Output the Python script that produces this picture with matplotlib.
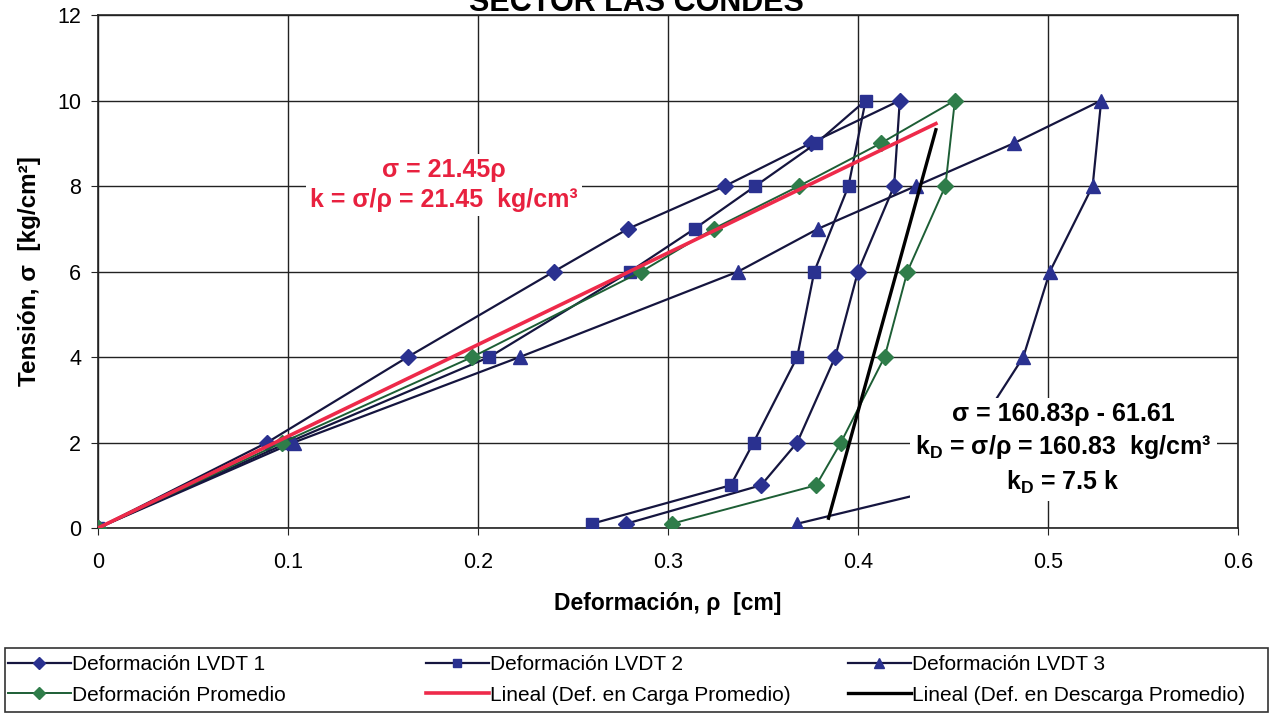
import numpy as np
import matplotlib.pyplot as plt
from matplotlib.patches import Rectangle
from matplotlib import font_manager

# Datos (tensión en kg/cm2, deformación en cm)
sigma = [0, 2, 4, 6, 7, 8, 9, 10, 8, 6, 4, 2, 1, 0.1]
lvdt1 = [0, 0.089, 0.163, 0.240, 0.279, 0.330, 0.375, 0.422, 0.419, 0.400, 0.388, 0.368, 0.349, 0.278]
lvdt2 = [0, 0.100, 0.206, 0.280, 0.314, 0.346, 0.378, 0.404, 0.395, 0.377, 0.368, 0.345, 0.333, 0.260]
lvdt3 = [0, 0.103, 0.222, 0.337, 0.379, 0.4305, 0.482, 0.528, 0.5235, 0.501, 0.487, 0.458, 0.452, 0.368]
promedio = [0, 0.097, 0.197, 0.286, 0.324, 0.369, 0.412, 0.451, 0.446, 0.426, 0.414, 0.391, 0.378, 0.302]

# Líneas de tendencia
k_carga = 21.45
rango_carga = [0, 0.441]
k_desc, b_desc = 160.83, -61.61
rango_desc = [0.3845, 0.441]

fuentes = [f.name for f in font_manager.fontManager.ttflist]
fuente = 'Liberation Sans' if 'Liberation Sans' in fuentes else 'DejaVu Sans'

plt.rcParams['font.family'] = [fuente, 'DejaVu Sans']
plt.rcParams['mathtext.fontset'] = 'custom'
plt.rcParams['mathtext.rm'] = fuente
plt.rcParams['mathtext.bf'] = fuente + ':bold'
plt.rcParams['mathtext.default'] = 'bf'

azul_linea = '#15153f'
azul = '#2a3190'
verde = '#2f7d4a'
verde_linea = '#1d5e35'

fig = plt.figure(figsize=(12.73, 7.19), dpi=100)
ax = fig.add_axes([0.077, 1 - 528 / 719, 0.8955, 513 / 719])

ax.plot(lvdt1, sigma, color=azul_linea, lw=1.6, marker='D', ms=8.5,
        mfc=azul, mec=azul, label='Deformación LVDT 1', zorder=3)
ax.plot(lvdt2, sigma, color=azul_linea, lw=1.6, marker='s', ms=8.5,
        mfc=azul, mec=azul, label='Deformación LVDT 2', zorder=3)
ax.plot(lvdt3, sigma, color=azul_linea, lw=1.6, marker='^', ms=10,
        mfc=azul, mec=azul, label='Deformación LVDT 3', zorder=3)
ax.plot(promedio, sigma, color=verde_linea, lw=1.4, marker='D', ms=8.5,
        mfc=verde, mec=verde, label='Deformación Promedio', zorder=3)

xc = np.array(rango_carga)
ax.plot(xc, k_carga * xc, color='#ee2a4a', lw=2.6,
        label='Lineal (Def. en Carga Promedio)', zorder=4)
xd = np.array(rango_desc)
ax.plot(xd, k_desc * xd + b_desc, color='black', lw=2.4,
        label='Lineal (Def. en Descarga Promedio)', zorder=4)

ax.text(0.182, 8.02, 'σ = 21.45ρ\nk = σ/ρ = 21.45  kg/cm³', color='#e8213f',
        fontsize=18, fontweight='bold', ha='center', va='center', linespacing=1.3,
        bbox=dict(facecolor='white', edgecolor='none', pad=3), zorder=6)
ax.text(0.508, 1.85, 'σ = 160.83ρ - 61.61\nk$_D$ = σ/ρ = 160.83  kg/cm³\nk$_D$ = 7.5 k',
        color='black', fontsize=18, fontweight='bold', ha='center', va='center',
        linespacing=1.35, bbox=dict(facecolor='white', edgecolor='none', pad=4), zorder=6)

ax.set_xlim(0, 0.6)
ax.set_ylim(0, 12)
ax.set_xticks(np.arange(0, 0.61, 0.1))
ax.set_xticklabels(['0', '0.1', '0.2', '0.3', '0.4', '0.5', '0.6'])
ax.set_yticks(range(0, 13, 2))
ax.grid(True, color='#222222', lw=1.0)
ax.set_axisbelow(True)
for s in ax.spines.values():
    s.set_color('#222222')
    s.set_linewidth(1.2)
ax.tick_params(labelsize=15.5, length=5, color='#222222', pad=12)
ax.tick_params(axis='y', pad=7)

ax.set_xlabel('Deformación, ρ  [cm]', fontsize=16.5, fontweight='bold', labelpad=14)
ax.set_ylabel('Tensión, σ  [kg/cm²]', fontsize=17.5, fontweight='bold', labelpad=12)

fig.text(0.5, 1 - 11 / 719, 'SECTOR LAS CONDES', ha='center', va='baseline',
         fontsize=22, fontweight='bold')

# Leyenda en recuadro, tres columnas
fig.patches.append(Rectangle((5 / 1273, 7 / 719), 1263 / 1273, 64 / 719,
                             transform=fig.transFigure, fill=False,
                             edgecolor='#333333', lw=1.2))
handles, labels = ax.get_legend_handles_labels()
posiciones = [8 / 1273, 426 / 1273, 848 / 1273]
for i, xpos in enumerate(posiciones):
    fig.legend([handles[i], handles[i + 3]], [labels[i], labels[i + 3]],
               loc='center left', bbox_to_anchor=(xpos, 39 / 719),
               frameon=False, handlelength=3.0, handletextpad=0.05,
               labelspacing=0.55, borderpad=0, borderaxespad=0,
               prop={'size': 15}, markerscale=0.75)

fig.savefig('out.png', dpi=100)
